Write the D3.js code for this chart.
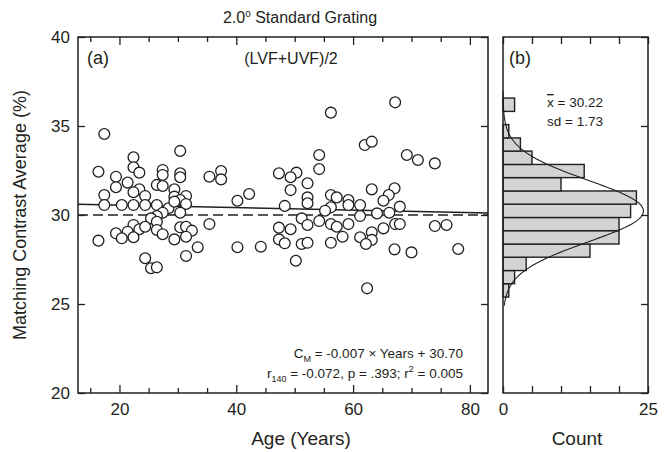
<!DOCTYPE html>
<html>
<head>
<meta charset="utf-8">
<script src="https://cdn.jsdelivr.net/npm/d3@7"></script>
<style>
body { margin: 0; background: #fff; }
svg { display: block; font-family: "Liberation Sans", Arial, sans-serif; }
text { fill: #231f20; }
.axis path.domain { display: none; }
.axis line { stroke: #231f20; stroke-width: 1.3; }
</style>
</head>
<body>
<svg width="667" height="452"></svg>
<script>
// scatter: age (years) and matching contrast average (%)
var ages = [17.4, 22.4, 30.4, 16.4, 19.4, 22.4, 23.4, 27.4, 27.4, 30.4, 30.4, 35.4, 37.4, 37.4,
  19.4, 21.4, 23.4, 26.4, 27.4, 29.4, 17.4, 22.4, 24.4, 29.4, 31.4, 30.4, 40.2,
  17.4, 20.4, 22.4, 24.4, 26.4, 31.4, 28.4, 29.4, 30.4, 27.4, 26.4, 25.4, 26.4, 22.4,
  19.4, 21.4, 23.4, 24.4, 26.4, 27.4, 30.4, 31.4, 32.4, 35.4, 16.4, 20.4, 22.4, 29.4,
  31.4, 33.4, 40.2, 31.4, 24.4, 25.4, 26.4,
  56.2, 62.0, 63.2, 54.2, 54.2, 47.3, 50.3, 49.3, 52.2, 42.2, 49.3, 52.2, 52.2, 56.2,
  57.2, 59.2, 59.2, 63.2, 61.2, 48.3, 56.2, 55.2, 64.1, 61.2, 51.2, 52.2, 54.2, 56.2,
  57.2, 59.2, 47.3, 49.3, 58.2, 61.2, 63.2, 63.2, 62.2, 47.3, 48.3, 51.2, 52.2, 56.2,
  44.2, 50.2, 62.4,
  67.2, 69.2, 71.1, 74.0, 67.1, 66.1, 65.2, 68.0, 66.2, 65.2, 67.2, 68.0, 74.0, 76.0,
  67.1, 70.0, 78.0];
var contrast = [34.55, 33.24, 33.6, 32.43, 32.15, 32.68, 32.38, 32.53, 32.25, 32.34, 32.12, 32.15, 32.47, 32.0,
  31.56, 31.82, 31.44, 31.69, 31.63, 31.44, 31.12, 31.28, 31.07, 31.03, 31.07, 30.84, 30.8,
  30.56, 30.56, 30.56, 30.56, 30.56, 30.62, 30.38, 30.75, 30.13, 30.13, 29.94, 29.81, 29.62, 29.44,
  28.97, 29.06, 29.2, 29.34, 29.16, 28.92, 29.31, 29.34, 29.12, 29.49, 28.56, 28.69, 28.75, 28.63,
  28.78, 28.19, 28.19, 27.7, 27.57, 27.01, 27.06,
  35.75, 33.93, 34.12, 33.37, 32.58, 32.34, 32.38, 32.12, 31.78, 31.18, 31.4, 30.99, 30.66, 31.12,
  30.99, 30.84, 30.56, 31.44, 30.56, 30.51, 30.43, 30.24, 30.09, 29.94, 29.81, 29.44, 29.66, 29.49,
  29.34, 29.49, 29.29, 29.2, 28.78, 28.75, 29.03, 28.6, 28.37, 28.63, 28.41, 28.37, 28.44, 28.44,
  28.22, 27.43, 25.88,
  36.33, 33.37, 33.09, 32.9, 31.5, 31.12, 30.8, 30.47, 30.13, 29.25, 29.49, 29.49, 29.38, 29.44,
  28.07, 27.9, 28.09];

// regression and reference line
var fitSlope = -0.007, fitIntercept = 30.70;
var refLevel = 30;

// histogram (b): bin edges (%) and counts, bottom to top
var binEdges = [25.39, 26.14, 26.88, 27.63, 28.37, 29.12, 29.86, 30.61, 31.35, 32.10, 32.84, 33.59, 34.33, 35.08, 35.82, 36.57];
var binCounts = [1, 2, 4, 15, 20, 20, 22, 23, 10, 14, 5, 3, 1, 0, 2];
var histMean = 30.22, histSd = 1.73, nObs = 140;

var ageTicks = [15, 20, 25, 30, 35, 40, 45, 50, 55, 60, 65, 70, 75, 80];
var ageLabels = [20, 40, 60, 80];
var valueTicks = [20, 25, 30, 35, 40];
var countTicks = [0, 5, 10, 15, 20, 25];
var countLabels = [0, 25];

var ink = "#231f20";
var svg = d3.select("svg");

var pa = {left: 78, right: 488, top: 37, bottom: 393};
var pb = {left: 503, right: 648, top: 37, bottom: 393};

var x = d3.scaleLinear().domain([12.9, 83.1]).range([pa.left, pa.right]);
var y = d3.scaleLinear().domain([20, 40]).range([pa.bottom, pa.top]);
var xc = d3.scaleLinear().domain([0, 25]).range([pb.left, pb.right]);

// ---- panel a axes ----
var bottomA = svg.append("g").attr("class", "axis")
    .attr("transform", "translate(0," + pa.bottom + ")")
    .call(d3.axisBottom(x).tickValues(ageTicks).tickSize(-5).tickPadding(10)
      .tickFormat(d => ageLabels.indexOf(d) >= 0 ? d : ""));
bottomA.selectAll(".tick").filter(d => ageLabels.indexOf(d) >= 0).select("line").attr("y2", -8);
svg.append("g").attr("class", "axis")
    .attr("transform", "translate(0," + pa.top + ")")
    .call(d3.axisTop(x).tickValues(ageTicks).tickSize(-5).tickFormat(""))
    .selectAll(".tick").filter(d => ageLabels.indexOf(d) >= 0).select("line").attr("y2", 8);
svg.append("g").attr("class", "axis")
    .attr("transform", "translate(" + pa.left + ",0)")
    .call(d3.axisLeft(y).tickValues(valueTicks).tickSize(-7).tickPadding(8));
svg.append("g").attr("class", "axis")
    .attr("transform", "translate(" + pa.right + ",0)")
    .call(d3.axisRight(y).tickValues(valueTicks).tickSize(-7).tickFormat(""));

// ---- panel b axes ----
svg.append("g").attr("class", "axis")
    .attr("transform", "translate(0," + pb.bottom + ")")
    .call(d3.axisBottom(xc).tickValues(countTicks).tickSize(-7).tickPadding(10)
      .tickFormat(d => countLabels.indexOf(d) >= 0 ? d : ""));
svg.append("g").attr("class", "axis")
    .attr("transform", "translate(0," + pb.top + ")")
    .call(d3.axisTop(xc).tickValues(countTicks).tickSize(-7).tickFormat(""));
svg.append("g").attr("class", "axis")
    .attr("transform", "translate(" + pb.right + ",0)")
    .call(d3.axisRight(y).tickValues(valueTicks).tickSize(-7).tickFormat(""));

svg.selectAll(".axis text").attr("font-size", 17).attr("fill", ink);

// ---- panel a marks ----
svg.append("line")
    .attr("x1", x(12.9)).attr("x2", x(83.1))
    .attr("y1", y(refLevel)).attr("y2", y(refLevel))
    .attr("stroke", ink).attr("stroke-width", 1.4)
    .attr("stroke-dasharray", "10,5");

var fitLine = d3.line().x(d => x(d)).y(d => y(fitIntercept + fitSlope * d));
svg.append("path")
    .attr("d", fitLine([12.9, 83.1]))
    .attr("fill", "none").attr("stroke", ink).attr("stroke-width", 1.5);

svg.append("g").selectAll("circle")
  .data(ages.map((a, i) => [a, contrast[i]]))
  .join("circle")
    .attr("cx", d => x(d[0]))
    .attr("cy", d => y(d[1]))
    .attr("r", 5.4)
    .attr("fill", "#fff")
    .attr("stroke", ink)
    .attr("stroke-width", 1.3);

// ---- panel b marks ----
svg.append("g").selectAll("rect")
  .data(binCounts)
  .join("rect")
    .attr("x", xc(0))
    .attr("y", (d, i) => y(binEdges[i + 1]))
    .attr("height", (d, i) => y(binEdges[i]) - y(binEdges[i + 1]))
    .attr("width", d => xc(d) - xc(0))
    .attr("fill", "#d1d3d4")
    .attr("stroke", ink)
    .attr("stroke-width", 1.4)
    .style("display", d => d > 0 ? null : "none");

var binW = binEdges[1] - binEdges[0];
var normCount = v => nObs * binW / (histSd * Math.sqrt(2 * Math.PI)) *
    Math.exp(-0.5 * Math.pow((v - histMean) / histSd, 2));
var curve = d3.line().x(v => xc(normCount(v))).y(v => y(v));
svg.append("path")
    .attr("d", curve(d3.range(24.9, 36.95, 0.05)))
    .attr("fill", "none").attr("stroke", ink).attr("stroke-width", 1.1);

// ---- frames ----
[pa, pb].forEach(function(p) {
  svg.append("rect")
    .attr("x", p.left).attr("y", p.top)
    .attr("width", p.right - p.left).attr("height", p.bottom - p.top)
    .attr("fill", "none").attr("stroke", ink).attr("stroke-width", 1.5);
});

// ---- texts ----
var title = svg.append("text").attr("x", 300).attr("y", 23)
    .attr("text-anchor", "middle").attr("font-size", 16);
title.append("tspan").text("2.0");
title.append("tspan").attr("dy", -6).attr("font-size", 10).text("o");
title.append("tspan").attr("dy", 6).text(" Standard Grating");

svg.append("text").attr("x", 87).attr("y", 64).attr("font-size", 18).text("(a)");
svg.append("text").attr("x", 291).attr("y", 64).attr("text-anchor", "middle")
    .attr("font-size", 16).text("(LVF+UVF)/2");
svg.append("text").attr("x", 509).attr("y", 64).attr("font-size", 18).text("(b)");

var mt = svg.append("text").attr("x", 547).attr("y", 107).attr("font-size", 13.5);
mt.append("tspan").style("text-decoration", "overline").text("x");
mt.append("tspan").text(" = " + histMean.toFixed(2));
svg.append("text").attr("x", 547).attr("y", 126).attr("font-size", 13.5)
    .text("sd = " + histSd.toFixed(2));

var eq = svg.append("text").attr("x", 463).attr("y", 358)
    .attr("text-anchor", "end").attr("font-size", 13.5);
eq.append("tspan").text("C");
eq.append("tspan").attr("dy", 4).attr("font-size", 9).text("M");
eq.append("tspan").attr("dy", -4).text(" = " + fitSlope + " \u00d7 Years + " + fitIntercept.toFixed(2));

var st = svg.append("text").attr("x", 463).attr("y", 378)
    .attr("text-anchor", "end").attr("font-size", 13.5);
st.append("tspan").text("r");
st.append("tspan").attr("dy", 4).attr("font-size", 9).text("140");
st.append("tspan").attr("dy", -4).text(" = -0.072, p = .393; r");
st.append("tspan").attr("dy", -6).attr("font-size", 9).text("2");
st.append("tspan").attr("dy", 6).text(" = 0.005");

svg.append("text").attr("x", 301).attr("y", 445).attr("text-anchor", "middle")
    .attr("font-size", 19).text("Age (Years)");
svg.append("text").attr("x", 577).attr("y", 445).attr("text-anchor", "middle")
    .attr("font-size", 19).text("Count");
svg.append("text")
    .attr("transform", "translate(26,215) rotate(-90)")
    .attr("text-anchor", "middle").attr("font-size", 18)
    .text("Matching Contrast Average (%)");
</script>
</body>
</html>
